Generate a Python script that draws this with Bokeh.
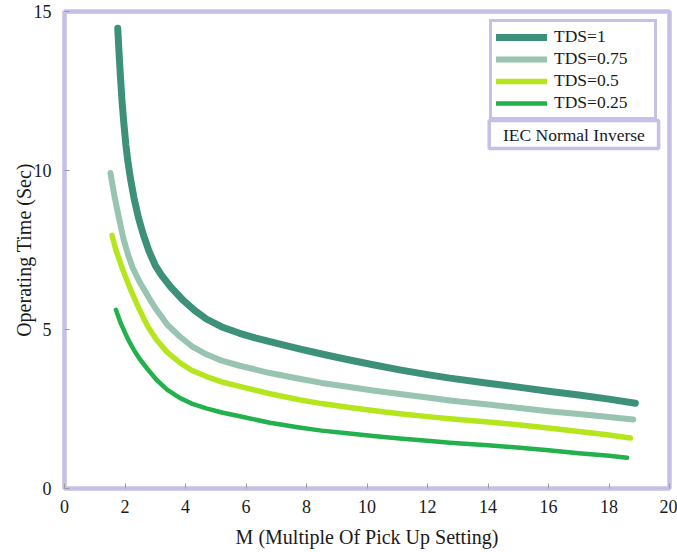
from bokeh.plotting import figure
from bokeh.models import (Legend, LegendItem, BoxAnnotation, Label,
                          SingleIntervalTicker, Range1d)
from bokeh.embed import file_html
from bokeh.resources import INLINE

# Operating time (s) against multiple of pick-up setting, per time dial setting
m_tds_100 = [1.76, 1.80, 1.85, 1.90, 1.96, 2.03, 2.10, 2.18, 2.30, 2.45, 2.60,
             2.79, 3.00, 3.20, 3.50, 3.92, 4.30, 4.69, 5.20, 5.79, 6.30, 6.79,
             7.76, 8.50, 9.42, 10.2, 11.08, 12.0, 12.74, 14.0, 15.06, 16.0,
             17.0, 18.0, 18.87]
t_tds_100 = [14.47, 13.75, 12.95, 12.20, 11.50, 10.80, 10.25, 9.75, 9.12, 8.50,
             8.00, 7.47, 7.02, 6.72, 6.35, 5.92, 5.60, 5.33, 5.08, 4.88, 4.74,
             4.62, 4.39, 4.23, 4.04, 3.89, 3.73, 3.58, 3.47, 3.31, 3.18, 3.06,
             2.94, 2.81, 2.68]

m_tds_075 = [1.52, 1.65, 1.80, 1.95, 2.10, 2.25, 2.48, 2.80, 3.04, 3.40, 3.81,
             4.20, 4.69, 5.20, 5.79, 6.79, 7.76, 8.50, 9.42, 10.2, 11.08, 12.0,
             12.74, 14.0, 15.06, 16.0, 17.0, 18.0, 18.8]
t_tds_075 = [9.92, 9.20, 8.50, 7.85, 7.35, 6.95, 6.50, 5.98, 5.62, 5.15, 4.78,
             4.48, 4.22, 4.02, 3.86, 3.63, 3.45, 3.32, 3.19, 3.08, 2.97, 2.86,
             2.77, 2.64, 2.53, 2.43, 2.34, 2.25, 2.17]

m_tds_050 = [1.57, 1.70, 1.90, 2.10, 2.30, 2.48, 2.75, 3.04, 3.40, 3.81, 4.20,
             4.69, 5.20, 5.79, 6.79, 7.76, 8.50, 9.42, 10.2, 11.08, 12.0, 12.74,
             14.0, 15.06, 16.0, 17.0, 18.0, 18.71]
t_tds_050 = [7.96, 7.50, 6.95, 6.45, 6.00, 5.62, 5.10, 4.68, 4.28, 3.96, 3.72,
             3.52, 3.35, 3.21, 2.98, 2.79, 2.67, 2.55, 2.45, 2.35, 2.26, 2.19,
             2.09, 2.00, 1.90, 1.79, 1.68, 1.59]

m_tds_025 = [1.70, 1.85, 2.00, 2.15, 2.30, 2.48, 2.75, 3.04, 3.40, 3.81, 4.20,
             4.69, 5.20, 5.79, 6.79, 7.76, 8.50, 9.42, 10.2, 11.08, 12.0, 12.74,
             14.0, 15.06, 16.0, 17.0, 18.0, 18.6]
t_tds_025 = [5.62, 5.22, 4.90, 4.60, 4.35, 4.08, 3.75, 3.42, 3.10, 2.85, 2.67,
             2.52, 2.39, 2.27, 2.07, 1.92, 1.82, 1.73, 1.65, 1.57, 1.50, 1.44,
             1.36, 1.28, 1.20, 1.11, 1.03, 0.97]

series_labels = ["TDS=1", "TDS=0.75", "TDS=0.5", "TDS=0.25"]
curve_title = "IEC Normal Inverse"

SERIF = "Liberation Serif"
LAVENDER = "#c8bfe7"
INK = "#1a1a1a"

p = figure(width=677, height=552, output_backend="svg", toolbar_location=None,
           x_range=Range1d(0, 20), y_range=Range1d(0, 15),
           min_border_left=64, min_border_right=8, min_border_top=11,
           min_border_bottom=64)
p.background_fill_color = "white"
p.border_fill_color = "white"
p.outline_line_color = LAVENDER
p.outline_line_width = 4.5
p.xgrid.visible = False
p.ygrid.visible = False

p.xaxis.ticker = SingleIntervalTicker(interval=2)
p.yaxis.ticker = SingleIntervalTicker(interval=5)
p.xaxis.axis_label = "M (Multiple Of Pick Up Setting)"
p.yaxis.axis_label = "Operating Time (Sec)"
for ax in (p.xaxis, p.yaxis):
    ax.axis_line_color = None
    ax.major_tick_in = 5
    ax.major_tick_out = 0
    ax.major_tick_line_color = "#9a9a9a"
    ax.minor_tick_line_color = None
    ax.major_label_text_font = SERIF
    ax.major_label_text_font_size = "18px"
    ax.major_label_text_color = INK
    ax.axis_label_text_font = SERIF
    ax.axis_label_text_font_size = "20px"
    ax.axis_label_text_font_style = "normal"
    ax.axis_label_text_color = INK
p.xaxis.major_label_standoff = 7
p.xaxis.axis_label_standoff = 10
p.yaxis.major_label_standoff = 9
p.yaxis.axis_label_standoff = -4

line_kw = dict(line_cap="round", line_join="round")
r1 = p.line(m_tds_100, t_tds_100, line_color="#3d917a", line_width=7, **line_kw)
r2 = p.line(m_tds_075, t_tds_075, line_color="#98c4b1", line_width=6, **line_kw)
r3 = p.line(m_tds_050, t_tds_050, line_color="#b5e61d", line_width=5.5, **line_kw)
r4 = p.line(m_tds_025, t_tds_025, line_color="#22b14c", line_width=4.5, **line_kw)

# legend entries box; location is its bottom-left corner in frame pixels
legend = Legend(
    items=[LegendItem(label=lab, renderers=[r])
           for lab, r in zip(series_labels, [r1, r2, r3, r4])],
    location=(425, 368),
    border_line_color=LAVENDER, border_line_width=3.5, border_line_alpha=1,
    background_fill_color="white", background_fill_alpha=1,
    padding=4, spacing=1, margin=0,
    glyph_width=51, glyph_height=18, label_height=18, label_width=96,
    label_standoff=7,
    label_text_font=SERIF, label_text_font_size="17.5px",
    label_text_color=INK,
)
p.add_layout(legend, "center")

# box holding the curve-type caption, under the legend entries
p.add_layout(BoxAnnotation(left=14.04, right=19.64, top=11.57, bottom=10.69,
                           fill_color="white", fill_alpha=1,
                           line_color=LAVENDER, line_width=3.5, line_alpha=1))
p.add_layout(Label(x=16.84, y=11.13, text=curve_title, text_align="center",
                   text_baseline="middle", text_font=SERIF,
                   text_font_size="17.5px", text_color=INK))

open("out.html", "w").write(file_html(p, INLINE))
